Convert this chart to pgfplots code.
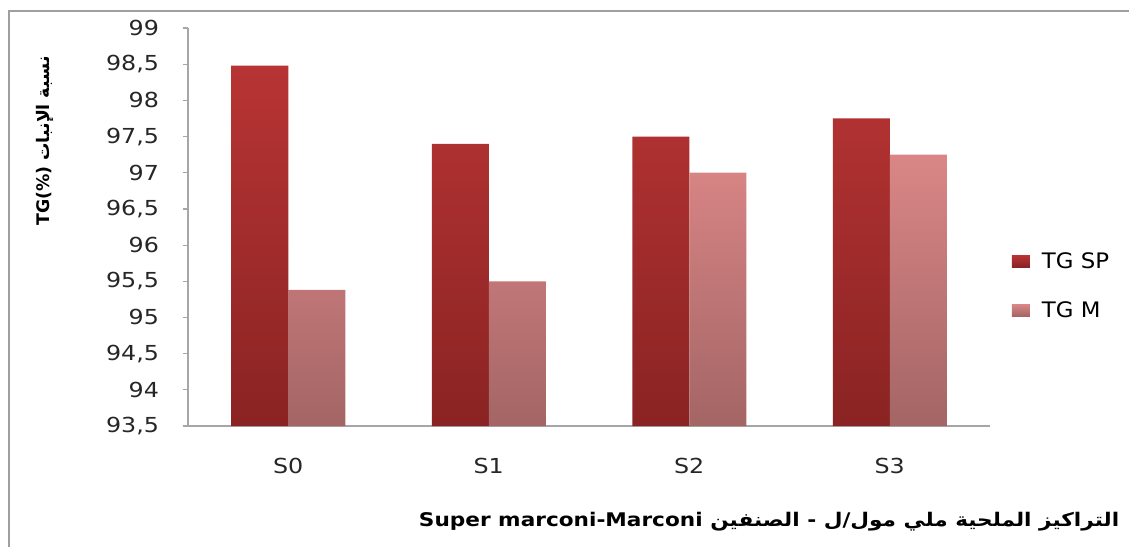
\documentclass[border=0pt]{standalone}
\usepackage{fontspec}
\setmainfont{DejaVu Sans}[FakeStretch=1.15]
\newfontfamily\arabicfont[Script=Arabic, FakeStretch=1.15]{DejaVu Sans}
\newfontfamily\plainfont{DejaVu Sans}
\newfontfamily\plainarabic[Script=Arabic]{DejaVu Sans}
\newfontfamily\legfont{DejaVu Sans}[FakeStretch=1.07]
\TeXXeTstate=1
\usepackage{pgfplots}
\pgfplotsset{compat=1.18}
\definecolor{spTop}{HTML}{B83434}
\definecolor{spBot}{HTML}{8A2323}
\definecolor{mTop}{HTML}{DA8686}
\definecolor{mBot}{HTML}{A46565}
\definecolor{axgray}{HTML}{A6A6A6}
\begin{document}
\begin{tikzpicture}
\path[use as bounding box] (0,0) rectangle (846.75pt,-410.25pt);
\draw[color=gray!75, line width=1.5pt] (7pt,-410.25pt) |- (846.75pt,-8.5pt);
\begin{axis}[
  at={(141pt,-319.5pt)}, anchor=south west,
  scale only axis, width=601.5pt, height=298.5pt,
  ybar=0pt, bar width=42.75pt,
  xmin=-0.5, xmax=3.5, ymin=93.5, ymax=99,
  y coord trafo/.code={\pgfmathparse{#1-93.5}},
  y coord inv trafo/.code={\pgfmathparse{#1+93.5}},
  xtick={0,1,2,3}, xticklabels={S0,S1,S2,S3},
  ytick={93.5,94,94.5,95,95.5,96,96.5,97,97.5,98,98.5,99},
  yticklabels={{93,5},94,{94,5},95,{95,5},96,{96,5},97,{97,5},98,{98,5},99},
  axis x line*=bottom, axis y line*=left,
  axis line style={axgray, line width=0.9pt},
  x tick style={draw=none},
  y tick style={axgray, line width=0.9pt},
  tick align=outside, major tick length=4pt,
  ticklabel style={font=\fontsize{15.5}{18}\selectfont, text=black!85},
  yticklabel style={xshift=-14.25pt},
  xticklabel style={yshift=-16.75pt},
  ylabel={\plainfont\bfseries TG(\%) {\plainarabic\bfseries\beginR نسبة الإنبات\endR}},
  ylabel style={at={(axis description cs:-0.178,0.716)}, anchor=center, font=\fontsize{13}{15}\selectfont},
  xlabel={\bfseries Super marconi-Marconi {\arabicfont\bfseries\beginR التراكيز الملحية ملي مول/ل - الصنفين\endR}},
  xlabel style={at={(axis description cs:1.167,-0.24)}, anchor=east, font=\fontsize{14.1}{16}\selectfont},
  legend style={draw=none, fill=none, at={(1.022,0.3525)}, anchor=west,
    font=\legfont\fontsize{16}{18}\selectfont, row sep=19.5pt},
  legend cell align=left,
  legend image code/.code={\fill[#1] (0pt,-4.5pt) rectangle (13.5pt,4.5pt);\path (0pt,0pt) -- (20.5pt,0pt);},
  clip=true,
]
\addplot[draw=none, top color=spTop, bottom color=spBot] coordinates {(0,98.48) (1,97.4) (2,97.5) (3,97.75)};
\addplot[draw=none, top color=mTop, bottom color=mBot] coordinates {(0,95.38) (1,95.5) (2,97.0) (3,97.25)};
\legend{TG SP, TG M}
\end{axis}
\end{tikzpicture}
\end{document}
